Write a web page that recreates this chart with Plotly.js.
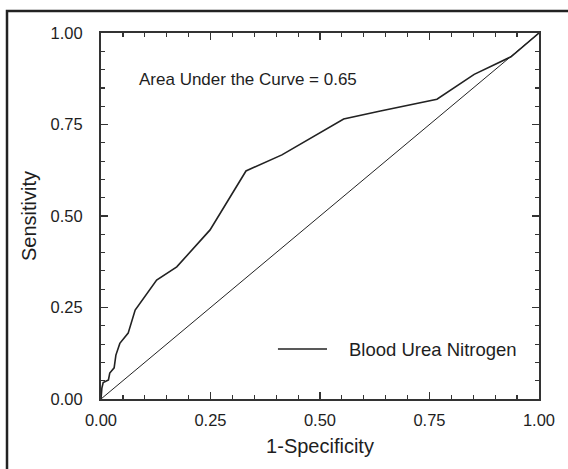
<!DOCTYPE html>
<html>
<head>
<meta charset="utf-8">
<script src="https://cdn.plot.ly/plotly-3.0.1.min.js"></script>
<style>html,body{margin:0;padding:0;background:#fff;}#chart{width:568px;height:469px;}</style>
</head>
<body>
<div id="chart"></div>
<script>
// ROC curve data
var seriesName = "Blood Urea Nitrogen";
var fpr = [0, 0.002, 0.005, 0.017, 0.02, 0.03, 0.034, 0.043, 0.062, 0.078, 0.127, 0.173, 0.249, 0.331, 0.413, 0.554, 0.638, 0.767, 0.852, 0.936, 1.0];
var tpr = [0, 0.03, 0.045, 0.052, 0.071, 0.085, 0.12, 0.152, 0.18, 0.243, 0.325, 0.361, 0.462, 0.623, 0.667, 0.765, 0.787, 0.819, 0.887, 0.935, 1.0];
var refX = [0, 1];
var refY = [0, 1];
var aucText = "Area Under the Curve = 0.65";
var xTitle = "1-Specificity";
var yTitle = "Sensitivity";
var tickVals = [0, 0.25, 0.5, 0.75, 1];
var tickText = ["0.00", "0.25", "0.50", "0.75", "1.00"];

var txt = "#1e1e1e";
var fam = "'Liberation Sans', Arial, Helvetica, sans-serif";

var traces = [
  {x: refX, y: refY, mode: "lines", line: {color: "#222", width: 1}, showlegend: false, hoverinfo: "skip"},
  {x: fpr, y: tpr, mode: "lines", name: seriesName, line: {color: "#222", width: 1.6}, showlegend: false}
];

function axis(titleText, standoff) {
  return {
    range: [0, 1],
    tickvals: tickVals,
    ticktext: tickText,
    ticks: "inside",
    ticklen: 7,
    tickwidth: 1.5,
    tickcolor: "#333",
    minor: {dtick: 0.05, tick0: 0, ticks: "inside", ticklen: 4, tickwidth: 1.2, tickcolor: "#333"},
    showline: true,
    linecolor: "#333",
    linewidth: 2,
    mirror: "ticks",
    showgrid: false,
    zeroline: false,
    tickfont: {family: fam, size: 16.5, color: txt},
    title: {text: titleText, font: {family: fam, size: 20, color: txt}, standoff: standoff},
    automargin: false,
    fixedrange: true
  };
}

var xa = axis(xTitle, 11);
xa.ticklabelstandoff = 5;
var ya = axis(yTitle, 9);
ya.ticklabelstandoff = 13;

var layout = {
  width: 568,
  height: 469,
  margin: {l: 101, r: 29, t: 33, b: 70},
  paper_bgcolor: "#ffffff",
  plot_bgcolor: "#ffffff",
  xaxis: xa,
  yaxis: ya,
  showlegend: false,
  annotations: [
    {x: 0.082, y: 0.872, xref: "x", yref: "y", text: aucText, showarrow: false, xanchor: "left", yanchor: "middle",
     font: {family: fam, size: 17, color: txt}},
    {x: 0.5616, y: 0.1366, xref: "paper", yref: "paper", text: seriesName, showarrow: false, xanchor: "left", yanchor: "middle",
     font: {family: fam, size: 18.5, color: txt}}
  ],
  shapes: [
    {type: "line", xref: "paper", yref: "paper", x0: 0.404, x1: 0.516, y0: 0.1366, y1: 0.1366, line: {color: "#222", width: 1.6}},
    {type: "path", xref: "paper", yref: "paper", path: "M -0.2146,-0.2 L -0.2146,1.0601 L 1.07,1.0601", line: {color: "#222", width: 2.5}}
  ]
};

Plotly.newPlot("chart", traces, layout, {displayModeBar: false, staticPlot: true});
</script>
</body>
</html>
